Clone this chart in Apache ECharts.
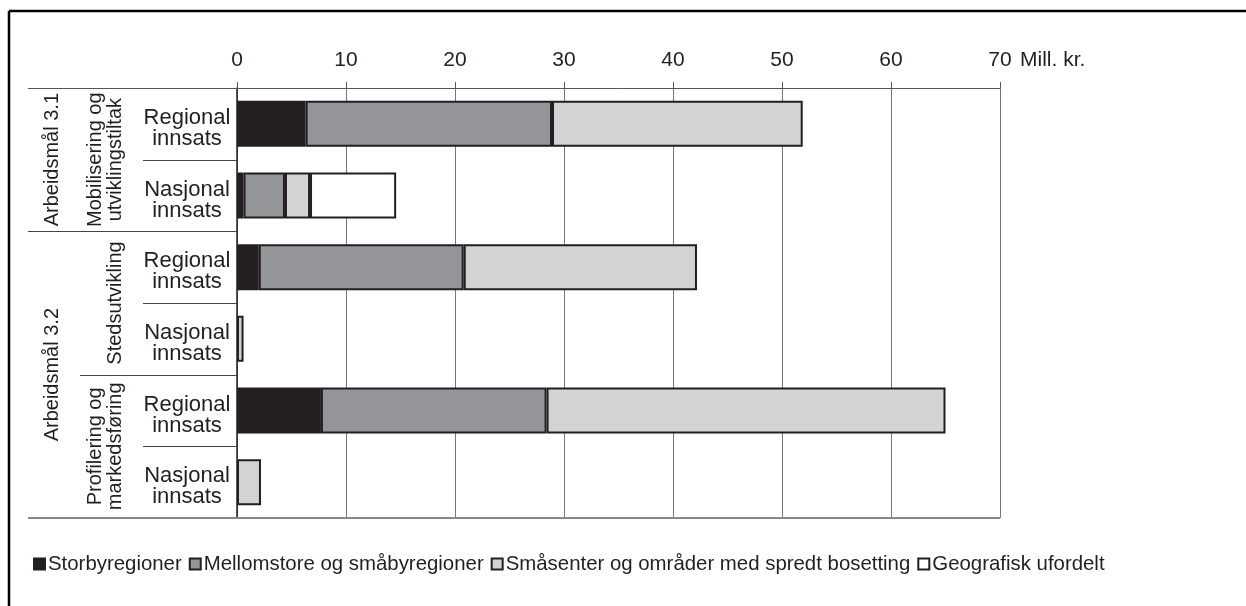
<!DOCTYPE html>
<html>
<head>
<meta charset="utf-8">
<script src="https://cdn.jsdelivr.net/npm/echarts@6/dist/echarts.min.js"></script>
<style>
  html, body { margin: 0; padding: 0; background: #fff; }
  #chart { width: 1246px; height: 606px; }
</style>
</head>
<body>
<div id="chart"></div>
<script>
// rader (ovenfra og ned)
const categories = ['Regional\ninnsats', 'Nasjonal\ninnsats', 'Regional\ninnsats', 'Nasjonal\ninnsats', 'Regional\ninnsats', 'Nasjonal\ninnsats'];
const seriesNames = ['Storbyregioner', 'Mellomstore og småbyregioner', 'Småsenter og områder med spredt bosetting', 'Geografisk ufordelt'];
const storby = [6.3, 0.6, 2.0, 0, 7.7, 0];
const mellomstore = [22.6, 3.8, 18.8, 0, 20.7, 0];
const smaasenter = [23.0, 2.3, 21.4, 0.6, 36.6, 2.2];
const ufordelt = [0, 7.9, 0, 0, 0, 0];
const seriesColors = ['#231f20', '#939598', '#d1d3d4', '#ffffff'];

// grupperinger på venstre side
const level1Names = ['Arbeidsmål 3.1', 'Arbeidsmål 3.2'];
const level1Spans = [2, 4];
const level2Names = ['Mobilisering og\nutviklingstiltak', 'Stedsutvikling', 'Profilering og\nmarkedsføring'];
const level2Spans = [2, 2, 2];

const xMin = 0, xMax = 70, xStep = 10;
const FONT = '"Liberation Sans", Arial, sans-serif';
const INK = '#231f20';

const chart = echarts.init(document.getElementById('chart'));

const seriesData = [storby, mellomstore, smaasenter, ufordelt];

const option = {
  animation: false,
  backgroundColor: '#fff',
  textStyle: { fontFamily: FONT, color: INK },
  legend: {
    left: 33,
    top: 554,
    padding: 0,
    icon: 'rect',
    itemWidth: 11,
    itemHeight: 11,
    itemGap: 7,
    textStyle: { fontSize: 20.4, color: INK, fontFamily: FONT, padding: [0, 0, 0, -2] },
    data: seriesNames
  },
  grid: { left: 237, right: 246, top: 88, bottom: 88 },
  xAxis: {
    type: 'value',
    position: 'top',
    min: xMin,
    max: xMax,
    interval: xStep,
    name: 'Mill. kr.',
    nameLocation: 'end',
    nameGap: 20,
    nameTextStyle: { fontSize: 21, color: INK, fontFamily: FONT, verticalAlign: 'bottom', padding: [0, 0, 17, 0] },
    axisLine: { show: true, lineStyle: { color: '#555', width: 1 } },
    axisTick: { show: true, inside: false, length: 6, lineStyle: { color: '#555' } },
    axisLabel: { fontSize: 21, color: INK, fontFamily: FONT, margin: 17 },
    splitLine: { show: true, lineStyle: { color: '#777', width: 1 } }
  },
  yAxis: {
    type: 'category',
    inverse: true,
    data: categories,
    axisLine: { show: true, lineStyle: { color: INK, width: 1.5 } },
    axisTick: { show: false },
    axisLabel: {
      color: INK, fontFamily: FONT, align: 'center', margin: 50,
      // første linje får høyere linjeboks, så teksten havner litt under midten
      formatter: v => v.split('\n').map((s, i) => (i === 0 ? '{first|' + s + '}' : '{line|' + s + '}')).join('\n'),
      rich: {
        first: { fontSize: 22, lineHeight: 30, verticalAlign: 'bottom', fontFamily: FONT, color: INK },
        line: { fontSize: 22, lineHeight: 20, fontFamily: FONT, color: INK }
      }
    }
  },
  series: seriesNames.map((name, i) => ({
    name: name,
    type: 'bar',
    stack: 'total',
    barWidth: 46,
    itemStyle: { color: seriesColors[i], borderColor: INK, borderWidth: 2 },
    emphasis: { disabled: true },
    data: seriesData[i].map(v => (v === 0 ? '-' : v))
  }))
};

chart.setOption(option);

// skillelinjer og grupperingstekster
function drawFrame () {
  const c0 = chart.convertToPixel({ yAxisIndex: 0 }, 0);
  const c1 = chart.convertToPixel({ yAxisIndex: 0 }, 1);
  const band = c1 - c0;
  const yb = k => c0 + (k - 0.5) * band;
  const xLeft = chart.convertToPixel({ xAxisIndex: 0 }, xMin);
  const xRight = chart.convertToPixel({ xAxisIndex: 0 }, xMax);

  const cum = spans => spans.reduce((a, s) => { a.push((a.length ? a[a.length - 1] : 0) + s); return a; }, []);
  const l1Bounds = cum(level1Spans);
  const l2Bounds = cum(level2Spans);

  const graphics = [];
  const line = (x1, y1, x2, y2, color, width) => graphics.push({
    type: 'line', silent: true, z: 10,
    shape: { x1: x1, y1: y1, x2: x2, y2: y2 },
    style: { stroke: color, lineWidth: width }
  });

  // ramme
  line(9, 11, 1246, 11, '#000', 2.5);
  line(9, 11, 9, 606, '#000', 2.5);

  // topp og bunn
  line(28, Math.round(yb(0)) + 0.5, xLeft, Math.round(yb(0)) + 0.5, '#555', 1);
  line(28, yb(categories.length), xRight, yb(categories.length), '#888', 2);

  for (let k = 1; k < categories.length; k++) {
    let x0 = 143;
    if (l1Bounds.includes(k)) x0 = 28;
    else if (l2Bounds.includes(k)) x0 = 80;
    const y = Math.round(yb(k)) + 0.5;
    line(x0, y, xLeft, y, '#444', 1);
  }

  const rotText = (text, x, y, vAlign) => graphics.push({
    type: 'text', silent: true, z: 10,
    x: x, y: y, rotation: Math.PI / 2,
    style: {
      text: text, fill: INK, fontSize: 20, fontFamily: FONT, lineHeight: 20,
      align: 'center', verticalAlign: vAlign
    }
  });

  let start = 0;
  level1Names.forEach((name, i) => {
    const end = start + level1Spans[i];
    rotText(name, 52, (yb(start) + yb(end)) / 2, 'middle');
    start = end;
  });
  start = 0;
  level2Names.forEach((name, i) => {
    const end = start + level2Spans[i];
    rotText(name, 125, (yb(start) + yb(end)) / 2, 'bottom');
    start = end;
  });

  chart.setOption({ graphic: graphics });
}

drawFrame();
</script>
</body>
</html>
